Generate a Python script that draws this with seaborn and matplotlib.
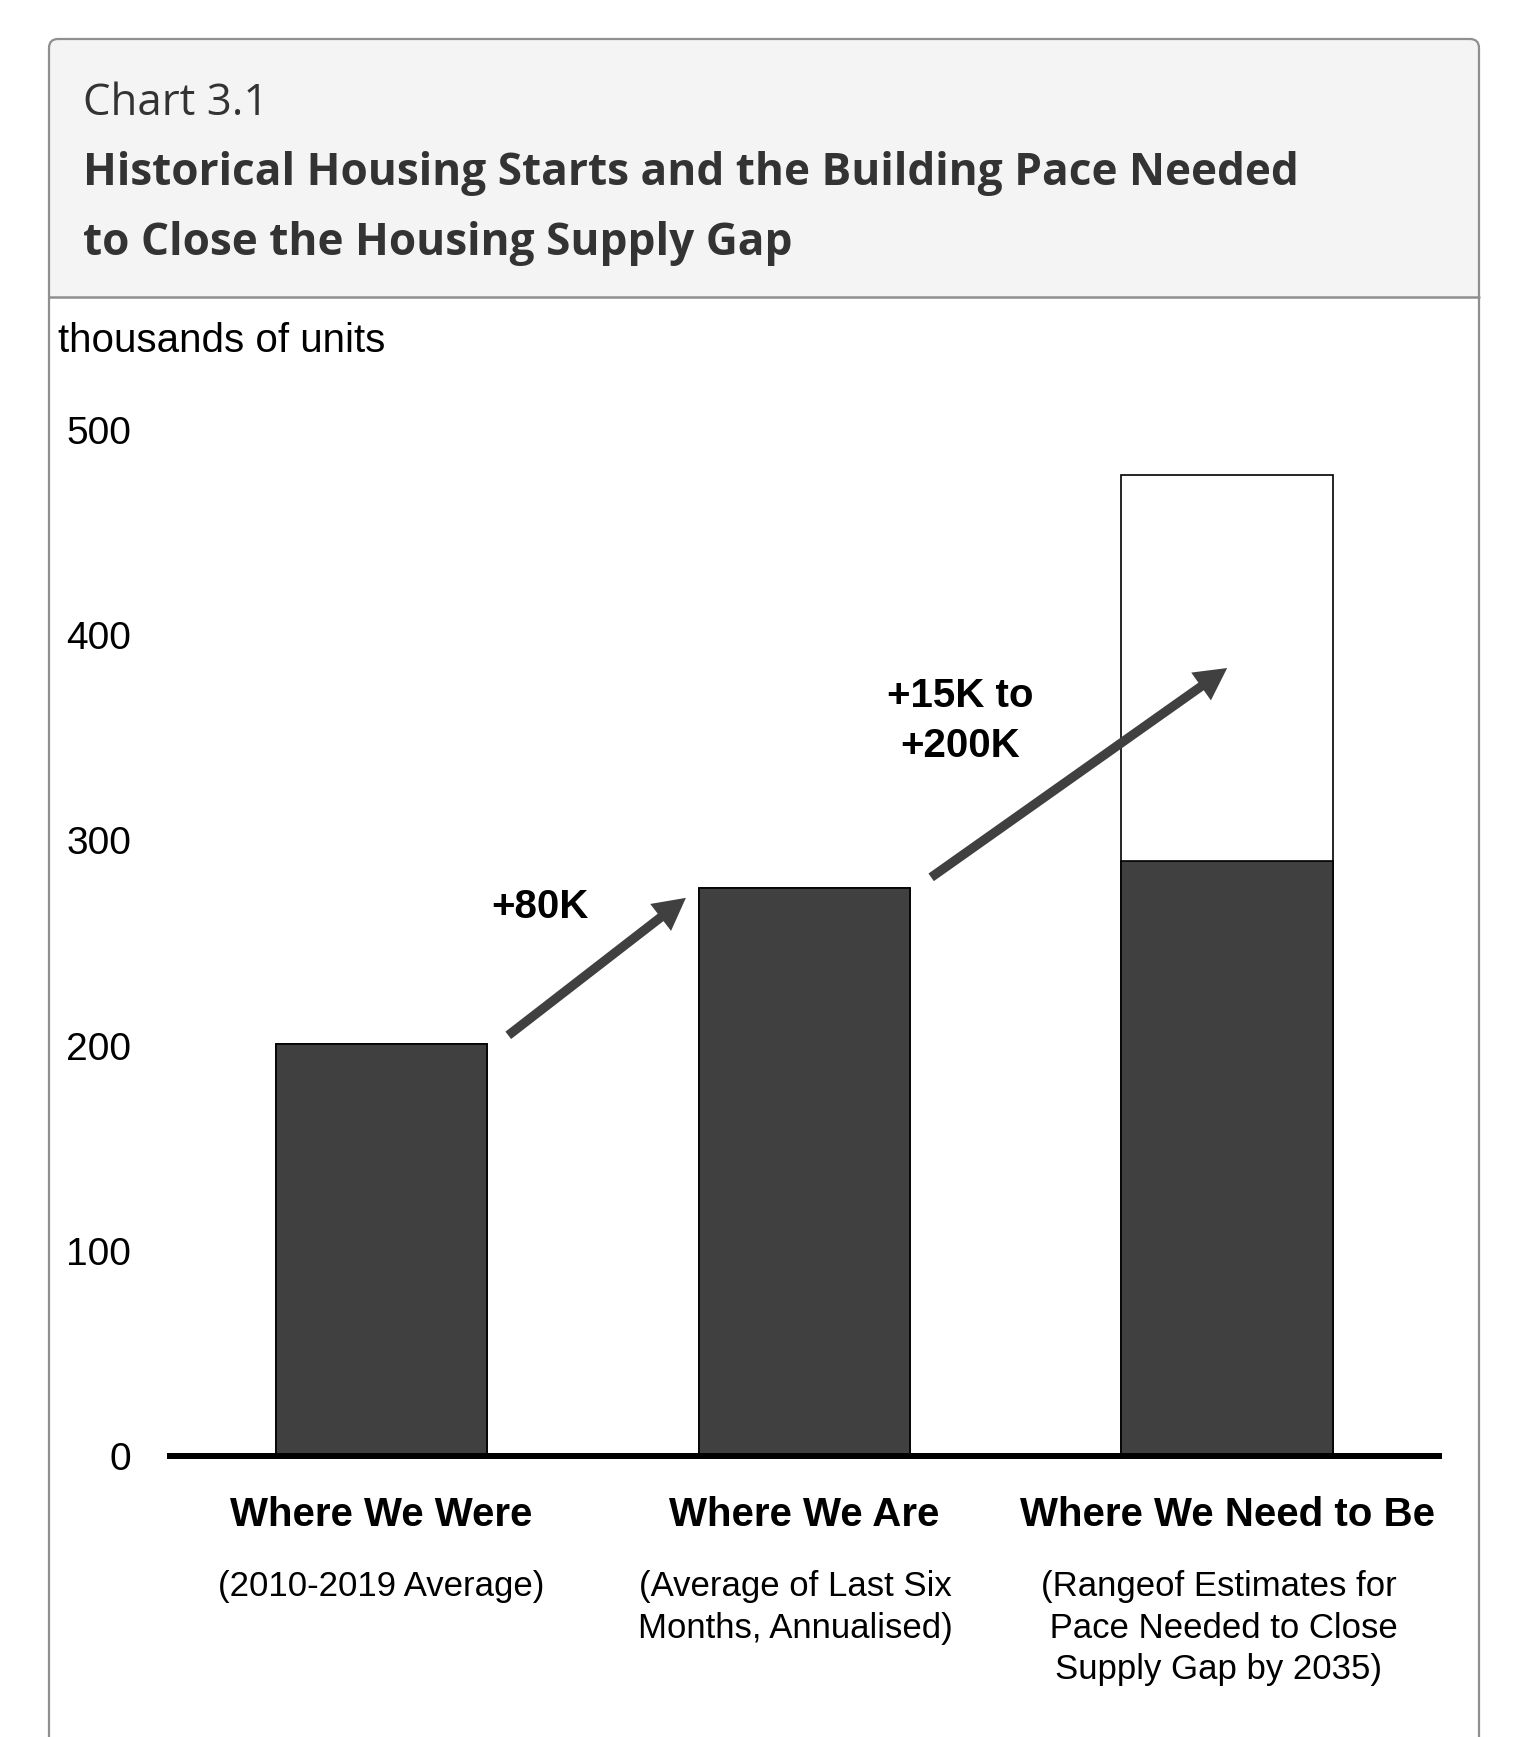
import matplotlib
matplotlib.use("Agg")
import matplotlib.pyplot as plt
import matplotlib.transforms as mtransforms
from matplotlib.patches import FancyBboxPatch, Rectangle
import pandas as pd
import seaborn as sns

# data (thousands of units)
categories = ["Where We Were", "Where We Are", "Where We Need to Be"]
subtitles = ["(2010-2019 Average)",
             "(Average of Last Six\nMonths, Annualised)",
             "(Rangeof Estimates for\n Pace Needed to Close\nSupply Gap by 2035)"]
starts_low = [201, 277, 290]
starts_high = [201, 277, 478]
yticks = [0, 100, 200, 300, 400, 500]
change_labels = ["+80K", "+15K to\n+200K"]

W, H = 1532, 1737
DARK = "#404040"
HEAD_FONT = ["Open Sans", "DejaVu Sans"]

sns.set_theme(style="white")
plt.rcParams["font.family"] = ["Liberation Sans", "DejaVu Sans"]
plt.rcParams["text.color"] = "black"

fig = plt.figure(figsize=(W / 100, H / 100), dpi=100)

# --- frame and header, pixel coordinates ---
bg = fig.add_axes([0, 0, 1, 1], zorder=0)
bg.set_xlim(0, W)
bg.set_ylim(H, 0)
bg.axis("off")
box = dict(boxstyle="round,pad=0,rounding_size=9")
bg.add_patch(FancyBboxPatch((49, 39), 1430, 1760, fc="#f4f4f4", ec="none", **box))
bg.add_patch(Rectangle((50, 297), 1428, 1500, fc="white", ec="none"))
bg.add_patch(FancyBboxPatch((49, 39), 1430, 1760, fc="none", ec="#8f8f8f", lw=1.6, **box))
bg.plot([49, 1479], [297, 297], color="#8f8f8f", lw=1.8)

bg.text(83, 115, "Chart 3.1", fontsize=31.5, family=HEAD_FONT, color="#333333", va="baseline")
bg.text(83, 185, "Historical Housing Starts and the Building Pace Needed", fontsize=31.8,
        family=HEAD_FONT, fontweight="bold", color="#333333", va="baseline")
bg.text(83, 255, "to Close the Housing Supply Gap", fontsize=31.8,
        family=HEAD_FONT, fontweight="bold", color="#333333", va="baseline")
bg.text(58, 352, "thousands of units", fontsize=29, va="baseline")

# --- chart ---
ax = fig.add_axes([170 / W, 1 - 1456 / H, 1268.6 / W, 1026 / H], zorder=1)
ax.patch.set_alpha(0)
df = pd.DataFrame({"category": categories, "low": starts_low, "high": starts_high})
sns.barplot(data=df, x="category", y="high", color="white", edgecolor="black",
            linewidth=1.2, width=0.5, saturation=1, ax=ax)
sns.barplot(data=df, x="category", y="low", color=DARK, edgecolor="black",
            linewidth=1.2, width=0.5, saturation=1, ax=ax)

ax.set_xlim(-0.5, 2.5)
ax.set_ylim(0, 500)
ax.set_xlabel("")
ax.set_ylabel("")
sns.despine(ax=ax, left=True)
ax.spines["bottom"].set_linewidth(4.3)
ax.spines["bottom"].set_color("black")

ax.set_yticks(yticks)
ax.tick_params(axis="y", length=0, pad=28, labelsize=28, labelcolor="black")
ax.set_xticks(range(len(categories)))
ax.set_xticklabels(categories, fontweight="bold", fontsize=29, color="black")
ax.tick_params(axis="x", length=0, pad=28.5)

# arrows between the bars
arrow_style = "simple,head_length=23,head_width=24.5,tail_width=6.7"
arrows = [((0.30, starts_low[0] + 4), (0.72, starts_low[1] - 5)),
          ((1.30, starts_low[1] + 5), (2.0, (starts_low[2] + starts_high[2]) / 2))]
for tail, tip in arrows:
    ax.annotate("", xy=tip, xytext=tail,
                arrowprops=dict(arrowstyle=arrow_style, mutation_scale=1, color=DARK,
                                lw=0, shrinkA=0, shrinkB=0))

ax.text(0.375, 262, change_labels[0], ha="center", va="baseline", fontsize=29, fontweight="bold")
ax.text(1.369, 340.5, change_labels[1], ha="center", va="baseline", fontsize=29,
        fontweight="bold", linespacing=1.4, multialignment="center")

# notes under the category names (the wrapped ones sit a little left of the bar)
tr = mtransforms.blended_transform_factory(ax.transData, fig.transFigure)
note_shift = [0, -0.022, -0.02]
for i, s in enumerate(subtitles):
    ax.text(i + note_shift[i], 1 - 1570 / H, s, transform=tr, ha="center", va="top",
            fontsize=25, linespacing=1.33, multialignment="center")

fig.savefig("out.png", dpi=100)
